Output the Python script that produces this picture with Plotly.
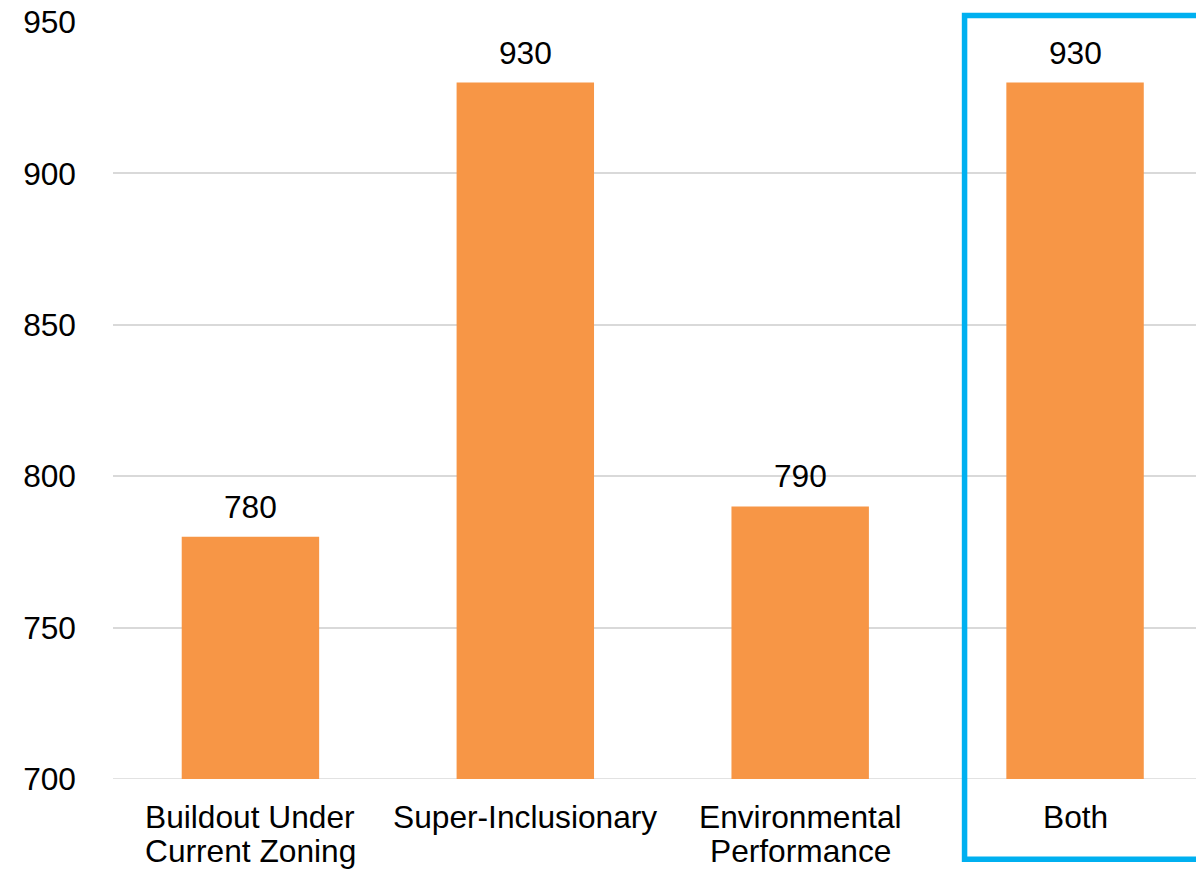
import plotly.graph_objects as go

# Scenario results
categories = ["Buildout Under\nCurrent Zoning", "Super-Inclusionary",
              "Environmental\nPerformance", "Both"]
values = [780, 930, 790, 930]
y_ticks = [700, 750, 800, 850, 900, 950]

FONT = "Liberation Sans, Arial, sans-serif"
FS = 31.7
ORANGE = "#F79646"
BLUE = "#00B0F0"
GRID = "#D9D9D9"
LINE_GAP = 34  # tight line spacing for the category labels

x_pos = list(range(len(categories)))

fig = go.Figure(
    go.Bar(
        x=x_pos,
        y=values,
        base=0,
        marker=dict(color=ORANGE, line=dict(width=0)),
        width=0.5,
        hoverinfo="skip",
    )
)

# baseline gridline at the bottom of the value range
fig.add_hline(y=y_ticks[0], line=dict(color=GRID, width=1.5), layer="below")

# value labels above each bar
for xi, v in zip(x_pos, values):
    fig.add_annotation(
        x=xi, y=v, xref="x", yref="y",
        text=str(v), showarrow=False,
        yanchor="bottom", yshift=10,
        font=dict(family=FONT, size=FS, color="#000000"),
    )

# category labels under the axis, one annotation per line
for xi, label in zip(x_pos, categories):
    for j, line in enumerate(label.split("\n")):
        fig.add_annotation(
            x=xi, y=0, xref="x", yref="paper",
            text=line, showarrow=False,
            yanchor="top", yshift=-18 - LINE_GAP * j,
            font=dict(family=FONT, size=FS, color="#000000"),
        )

# highlight box around the combined scenario
fig.add_shape(
    type="rect", xref="paper", yref="paper",
    x0=0.7863, x1=1.05, y0=-0.106, y1=1.0086,
    line=dict(color=BLUE, width=5.5),
    fillcolor="rgba(0,0,0,0)",
    layer="above",
)

fig.update_layout(
    width=1196, height=870,
    margin=dict(l=112.5, r=0, t=22, b=91, autoexpand=False),
    paper_bgcolor="white",
    plot_bgcolor="white",
    showlegend=False,
    font=dict(family=FONT, size=FS, color="#000000"),
    xaxis=dict(
        range=[-0.5, 3.44],
        showticklabels=False,
        showgrid=False,
        zeroline=False,
        showline=False,
        ticks="",
        automargin=False,
    ),
    yaxis=dict(
        range=[700, 950],
        tickmode="array",
        tickvals=y_ticks,
        showgrid=True,
        gridcolor=GRID,
        gridwidth=1.5,
        zeroline=False,
        showline=False,
        ticks="",
        automargin=False,
        ticklabelstandoff=36,
        tickfont=dict(family=FONT, size=FS, color="#000000"),
    ),
)

fig.write_html("out.html")
